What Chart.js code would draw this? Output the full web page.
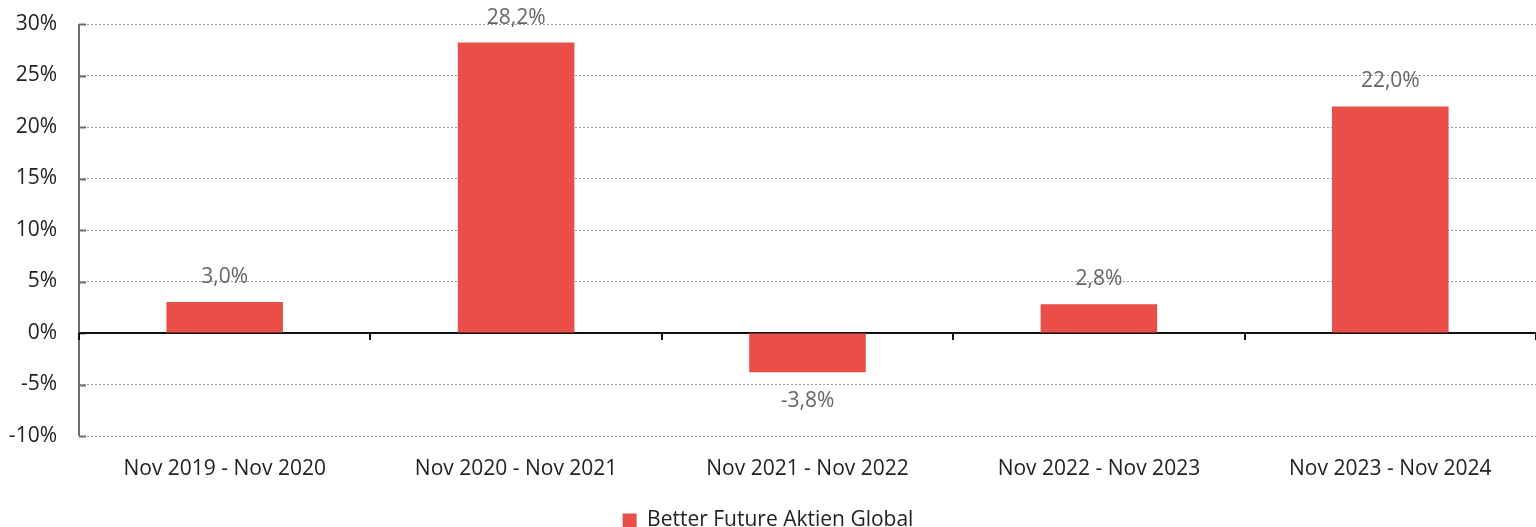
<!DOCTYPE html>
<html>
<head>
<meta charset="utf-8">
<script src="https://cdn.jsdelivr.net/npm/chart.js@4/dist/chart.umd.min.js"></script>
<style>
  html, body { margin: 0; padding: 0; background: #fff; }
  #wrap { width: 1536px; height: 527px; }
</style>
</head>
<body>
<div id="wrap"><canvas id="c" width="1536" height="527"></canvas></div>
<script>
// chart data
const periods = ['Nov 2019 - Nov 2020', 'Nov 2020 - Nov 2021', 'Nov 2021 - Nov 2022', 'Nov 2022 - Nov 2023', 'Nov 2023 - Nov 2024'];
const fundReturns = [3.0, 28.2, -3.8, 2.8, 22.0];
const seriesName = 'Better Future Aktien Global';
const yMin = -10, yMax = 30, yStep = 5;

const fmt = v => v.toFixed(1).replace('.', ',') + '%';

// y axis line, zero line + boundary ticks, and value labels
const extras = {
  id: 'extras',
  beforeDatasetsDraw(chart) {
    const ctx = chart.ctx, y = chart.scales.y, a = chart.chartArea;
    const y0 = Math.round(y.getPixelForValue(0));
    ctx.save();
    // y axis line with short solid ticks
    ctx.strokeStyle = '#6e6e6e';
    ctx.lineWidth = 2;
    ctx.beginPath();
    ctx.moveTo(a.left, a.top);
    ctx.lineTo(a.left, a.bottom);
    y.ticks.forEach(t => {
      const py = Math.round(y.getPixelForValue(t.value)) + 0.5;
      ctx.moveTo(a.left, py);
      ctx.lineTo(a.left + 7, py);
    });
    ctx.stroke();
    // zero line
    ctx.strokeStyle = '#111';
    ctx.beginPath();
    ctx.moveTo(a.left, y0);
    ctx.lineTo(a.right, y0);
    for (let i = 0; i <= periods.length; i++) {
      const px = Math.round(a.left + (a.right - a.left) * i / periods.length);
      ctx.moveTo(px, y0);
      ctx.lineTo(px, y0 + 7);
    }
    ctx.stroke();
    ctx.restore();
  },
  afterDatasetsDraw(chart) {
    const ctx = chart.ctx;
    ctx.save();
    ctx.font = '21px "Open Sans"';
    ctx.fillStyle = '#666';
    ctx.textAlign = 'center';
    ctx.textBaseline = 'middle';
    chart.getDatasetMeta(0).data.forEach((bar, i) => {
      const v = fundReturns[i];
      const ty = v >= 0 ? bar.y - 25 : bar.y + 29;
      ctx.fillText(fmt(v), bar.x, ty);
    });
    ctx.restore();
  }
};

new Chart(document.getElementById('c'), {
  type: 'bar',
  data: {
    labels: periods,
    datasets: [{
      label: seriesName,
      data: fundReturns,
      backgroundColor: '#e94e48',
      borderWidth: 0,
      barPercentage: 0.5,
      categoryPercentage: 0.8
    }]
  },
  options: {
    responsive: false,
    animation: false,
    layout: { padding: { top: 24, right: 0, left: 0, bottom: -14 } },
    plugins: {
      tooltip: { enabled: false },
      legend: {
        position: 'bottom',
        labels: {
          boxWidth: 14, boxHeight: 14, padding: 8,
          color: '#222',
          font: { family: 'Open Sans', size: 21, lineHeight: 1 }
        }
      }
    },
    scales: {
      x: {
        grid: { display: false },
        border: { display: false },
        ticks: { color: '#222', font: { family: 'Open Sans', size: 21 }, padding: 12 },
        afterFit(s) { s.height = 66; }
      },
      y: {
        min: yMin, max: yMax,
        ticks: {
          stepSize: yStep,
          color: '#222',
          font: { family: 'Open Sans', size: 21 },
          padding: 22,
          callback: v => v + '%'
        },
        grid: {
          color: c => c.tick && c.tick.value === 0 ? 'rgba(0,0,0,0)' : '#999',
          lineWidth: 1,
          drawTicks: false
        },
        border: { display: false, dash: [2, 2] },
        afterFit(s) { s.width = 79; s.paddingTop = 0; s.paddingBottom = 0; }
      }
    }
  },
  plugins: [extras]
});
</script>
</body>
</html>
